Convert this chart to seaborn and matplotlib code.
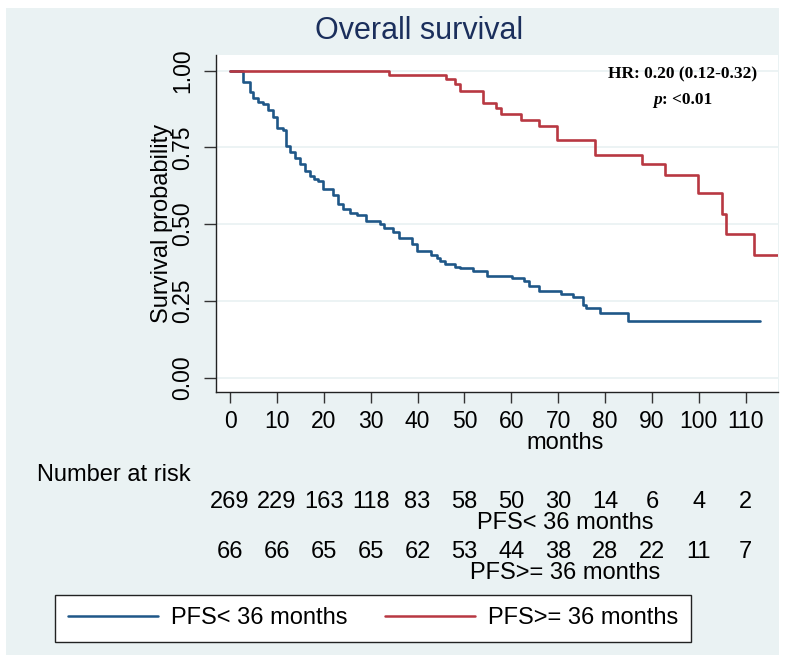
import matplotlib
matplotlib.use("Agg")
import matplotlib.pyplot as plt
import matplotlib.transforms as mtransforms
import pandas as pd
import seaborn as sns
from matplotlib.patches import Rectangle

# Kaplan-Meier steps (months, survival after the drop)
short_time = [0.0, 2.8, 4.3, 4.8, 5.9, 7.1, 8.2, 9.1, 10.0, 11.2, 11.9, 12.8, 13.9,
              14.9, 16.0, 17.1, 17.9, 18.8, 19.9, 22.0, 23.0, 24.0, 25.6, 27.0,
              29.0, 32.0, 32.8, 34.8, 36.0, 38.9, 39.9, 42.9, 44.1, 44.8, 45.8,
              48.0, 49.0, 51.9, 54.9, 60.1, 62.7, 63.8, 65.9, 70.7, 73.1, 75.2,
              75.9, 78.9, 84.9, 113.0]
short_surv = [1.0, 0.964, 0.931, 0.911, 0.898, 0.890, 0.871, 0.849, 0.814, 0.806,
              0.756, 0.735, 0.716, 0.696, 0.674, 0.658, 0.647, 0.639, 0.614, 0.595,
              0.567, 0.549, 0.538, 0.530, 0.510, 0.500, 0.486, 0.475, 0.456, 0.437,
              0.412, 0.401, 0.390, 0.379, 0.370, 0.362, 0.357, 0.347, 0.332, 0.325,
              0.314, 0.298, 0.283, 0.273, 0.262, 0.237, 0.226, 0.210, 0.185, 0.185]
long_time = [0.0, 34.0, 46.0, 48.0, 49.0, 54.0, 56.8, 57.8, 62.0, 65.9, 69.8, 77.8,
             87.8, 92.9, 99.8, 105.0, 105.8, 111.8, 118.0]
long_surv = [1.0, 0.986, 0.972, 0.956, 0.934, 0.896, 0.880, 0.859, 0.838, 0.820,
             0.775, 0.724, 0.696, 0.661, 0.601, 0.532, 0.467, 0.399, 0.399]

groups = ["PFS< 36 months", "PFS>= 36 months"]
line_colors = ["#1f5788", "#b83842"]

risk_times = [0, 10, 20, 30, 40, 50, 60, 70, 80, 90, 100, 110]
risk_short = [269, 229, 163, 118, 83, 58, 50, 30, 14, 6, 4, 2]
risk_long = [66, 66, 65, 65, 62, 53, 44, 38, 28, 22, 11, 7]

y_ticks = [0.0, 0.25, 0.50, 0.75, 1.0]
y_tick_labels = ["0.00", "0.25", "0.50", "0.75", "1.00"]

W, H = 787, 665
BG = "#eaf2f3"


def px(x, y):
    # pixel position in the 787x665 picture -> figure fraction
    return x / W, 1 - y / H


df = pd.concat([
    pd.DataFrame({"months": short_time, "surv": short_surv, "group": groups[0]}),
    pd.DataFrame({"months": long_time, "surv": long_surv, "group": groups[1]}),
])

sns.set_theme(style="white")
plt.rcParams["font.family"] = ["Liberation Sans", "DejaVu Sans"]
plt.rcParams["text.color"] = "black"
plt.rcParams["axes.labelcolor"] = "black"
plt.rcParams["xtick.labelcolor"] = "black"
plt.rcParams["ytick.labelcolor"] = "black"

fig = plt.figure(figsize=(W / 100, H / 100), dpi=100, facecolor="white")
x0, y0 = px(6, 655)
x1, y1 = px(779, 8)
fig.add_artist(Rectangle((x0, y0), x1 - x0, y1 - y0, transform=fig.transFigure,
                         facecolor=BG, edgecolor="none", zorder=-5))

left, bottom = px(216, 392)
right, top = px(778, 55)
ax = fig.add_axes([left, bottom, right - left, top - bottom])
ax.set_facecolor("white")

sns.lineplot(data=df, x="months", y="surv", hue="group", hue_order=groups,
             palette=line_colors, estimator=None, drawstyle="steps-post",
             linewidth=1.9, ax=ax, clip_on=True)

ax.set_xlim(-2.99, 116.9)
ax.set_ylim(-0.0466, 1.051)
ax.set_xticks(risk_times)
ax.set_xticklabels([str(t) for t in risk_times])
ax.set_yticks(y_ticks)
ax.set_yticklabels(y_tick_labels)
ax.yaxis.grid(True, color=BG, linewidth=1.3)
ax.xaxis.grid(False)
for side in ["top", "right"]:
    ax.spines[side].set_visible(False)
for side in ["left", "bottom"]:
    ax.spines[side].set_color("#222222")
    ax.spines[side].set_linewidth(1.0)

ax.tick_params(axis="x", direction="out", length=8, width=1, color="#333333",
               labelsize=16.5, pad=5, bottom=True)
ax.tick_params(axis="y", direction="out", length=9, width=1, color="#333333",
               labelsize=16.5, pad=7, left=True)
plt.setp(ax.get_yticklabels(), rotation=90, va="center")

ax.set_xlabel("months", fontsize=17, va="center")
ax.xaxis.set_label_coords((565 - 216) / 562, (392 - 443) / 337)
ax.set_ylabel("Survival probability", fontsize=17, va="center")
ax.yaxis.set_label_coords((162 - 216) / 562, 0.5)

fig.text(*px(419, 31), "Overall survival", fontsize=22, color="#1b2f5c",
         ha="center", va="center")

serif = ["Liberation Serif", "DejaVu Serif"]
fig.text(*px(683, 74), "HR: 0.20 (0.12-0.32)", fontsize=12.5, fontweight="bold",
         family=serif, ha="center", va="center")
fig.text(*px(661.6, 100), "p", fontsize=12.5, fontweight="bold", style="italic",
         family=serif, ha="right", va="center")
fig.text(*px(661.6, 100), ": <0.01", fontsize=12.5, fontweight="bold",
         family=serif, ha="left", va="center")

# number at risk table
fig.text(*px(37, 475), "Number at risk", fontsize=17, ha="left", va="center")
trans = mtransforms.blended_transform_factory(ax.transData, fig.transFigure)
for t, n1, n2 in zip(risk_times, risk_short, risk_long):
    ax.text(t, px(0, 502)[1], str(n1), transform=trans, fontsize=17,
            ha="center", va="center", clip_on=False)
    ax.text(t, px(0, 552)[1], str(n2), transform=trans, fontsize=17,
            ha="center", va="center", clip_on=False)
fig.text(*px(565, 523), groups[0], fontsize=17, ha="center", va="center")
fig.text(*px(565, 573), groups[1], fontsize=17, ha="center", va="center")

handles, labels = ax.get_legend_handles_labels()
leg = ax.legend(handles, labels, ncol=2, loc="center",
                bbox_to_anchor=px(373, 618.5), bbox_transform=fig.transFigure,
                fontsize=17, frameon=True, fancybox=False, framealpha=1,
                edgecolor="#222222", handlelength=3.8, handletextpad=0.55,
                columnspacing=1.6, borderpad=0.55, borderaxespad=0)
leg.get_frame().set_linewidth(1.0)
for line in leg.get_lines():
    line.set_linewidth(1.8)

fig.savefig("out.png", dpi=100, facecolor="white")
